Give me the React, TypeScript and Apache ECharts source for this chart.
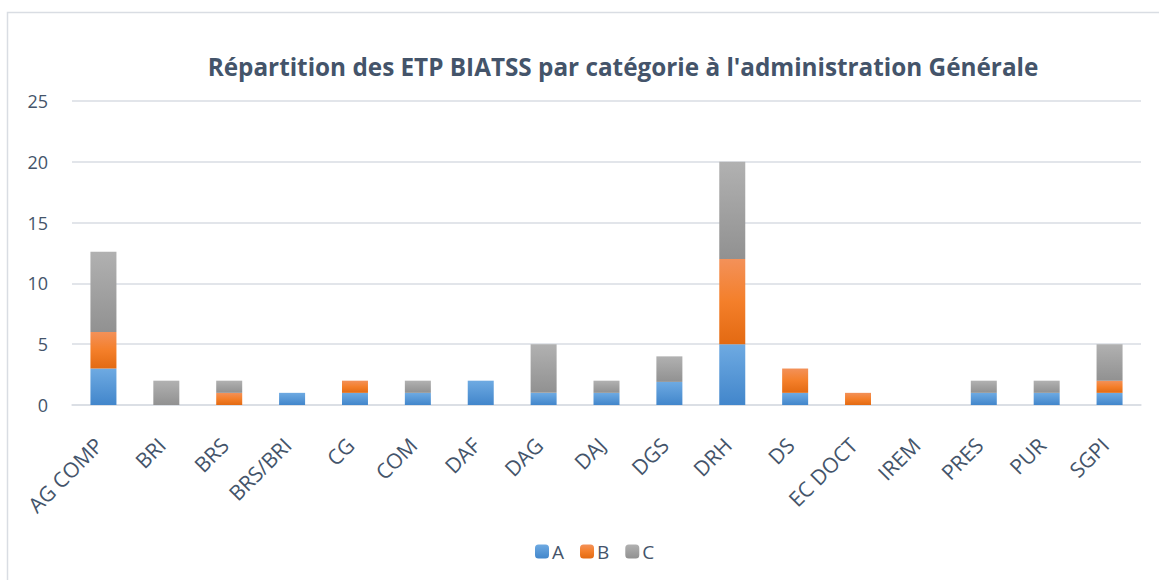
import React, { useEffect, useRef } from "react";
import * as echarts from "echarts";

const categories = ["AG COMP", "BRI", "BRS", "BRS/BRI", "CG", "COM", "DAF", "DAG", "DAJ", "DGS", "DRH", "DS", "EC DOCT", "IREM", "PRES", "PUR", "SGPI"];
const seriesA = [3, 0, 0, 1, 1, 1, 2, 1, 1, 1.9, 5, 1, 0, 0, 1, 1, 1];
const seriesB = [3, 0, 1, 0, 1, 0, 0, 0, 0, 0, 7, 2, 1, 0, 0, 0, 1];
const seriesC = [6.6, 2, 1, 0, 0, 1, 0, 4, 1, 2.1, 8, 0, 0, 0, 1, 1, 3];
const yTicks = { min: 0, max: 25, interval: 5 };

const grad = (stops: [number, string][]) =>
  new echarts.graphic.LinearGradient(0, 0, 0, 1, stops.map(([offset, color]) => ({ offset, color })));

export default function App() {
  const ref = useRef<HTMLDivElement>(null);
  useEffect(() => {
    if (!ref.current) return;
    const chart = echarts.init(ref.current, undefined, { renderer: "svg" });
    const textColor = "#44546A";
    const mk = (name: string, data: number[], color: any) => ({
      name,
      type: "bar",
      stack: "total",
      data: data.map((v) => (v === 0 ? null : v)),
      barWidth: 26,
      itemStyle: { color },
    });
    chart.setOption({
      animation: false,
      backgroundColor: "#ffffff",
      title: {
        text: "Répartition des ETP BIATSS par catégorie à l'administration Générale",
        left: 618,
        textAlign: "center",
        top: 49,
        textStyle: { fontFamily: "Open Sans", fontWeight: "bold", fontSize: 24.3, color: textColor },
      },
      graphic: [
        {
          type: "rect",
          shape: { x: 7.5, y: 12.5, width: 1200, height: 600 },
          style: { fill: "none", stroke: "#d9dde3", lineWidth: 1.5 },
          silent: true,
        },
      ],
      legend: {
        left: 530,
        top: 537,
        itemWidth: 14,
        itemHeight: 14,
        itemGap: 16,
        textStyle: { fontFamily: "Open Sans", fontSize: 19, color: textColor, padding: [0, 0, 0, -2] },
        data: ["A", "B", "C"],
      },
      grid: { left: 72, right: 18, top: 101, bottom: 175 },
      xAxis: {
        type: "category",
        data: categories,
        axisLine: { lineStyle: { color: "#d9dde3", width: 1.5 } },
        axisTick: { show: false },
        axisLabel: {
          rotate: 45,
          interval: 0,
          margin: 17,
          align: "right",
          verticalAlign: "top",
          padding: [0, 17, 0, 0],
          fontFamily: "Open Sans",
          fontSize: 21,
          color: textColor,
        },
      },
      yAxis: {
        type: "value",
        min: yTicks.min,
        max: yTicks.max,
        interval: yTicks.interval,
        axisLine: { show: false },
        axisTick: { show: false },
        splitLine: { lineStyle: { color: "#d9dde3", width: 1.5 } },
        axisLabel: { margin: 24, fontFamily: "Open Sans", fontSize: 18, color: textColor },
      },
      series: [
        mk("A", seriesA, grad([[0, "#6eaae2"], [1, "#4286cb"]])),
        mk("B", seriesB, grad([[0, "#f39159"], [0.5, "#f47f2a"], [1, "#e36a12"]])),
        mk("C", seriesC, grad([[0, "#b1b1b1"], [1, "#919191"]])),
      ],
    });
    return () => chart.dispose();
  }, []);
  return <div ref={ref} style={{ position: "fixed", left: 0, top: 0, width: 1159, height: 580 }} />;
}
